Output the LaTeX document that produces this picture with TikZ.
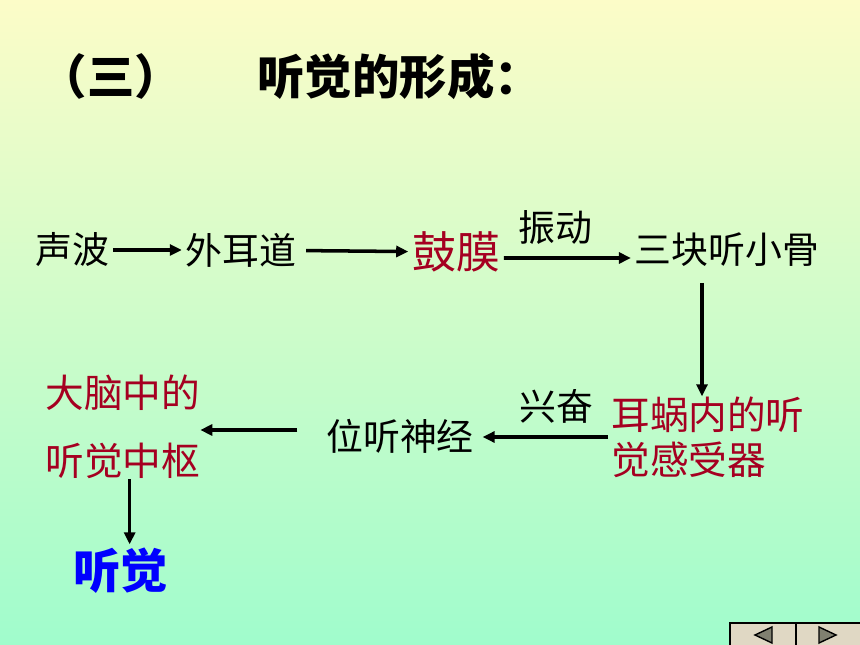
\documentclass[tikz,border=0pt]{standalone}
\usepackage{fontspec}
\newfontfamily\cjk{Noto Sans CJK SC}
\usetikzlibrary{arrows.meta}
\definecolor{bgtop}{RGB}{252,252,200}
\definecolor{bgbot}{RGB}{160,252,204}
\definecolor{darkred}{RGB}{165,0,33}
\definecolor{navbg}{RGB}{224,216,196}
\definecolor{navtri}{RGB}{128,128,112}
\tikzset{
  txt/.style = {inner sep = 2pt, font = \cjk\fontsize{21}{25}\selectfont},
  redtxt/.style = {inner sep = 0pt, align = left, text = darkred},
  arr/.style = {-{Triangle[length = .24cm, width = .22cm]}, line width = 2pt}
}
\begin{document}
\begin{tikzpicture}[x = .02cm, y = -.02cm]
\shade[top color = bgtop, bottom color = bgbot] (0,0) rectangle (860,645);
\useasboundingbox (0,0) rectangle (860,645);
\node[txt, font = \cjk\bfseries\fontsize{27}{30}\selectfont] (num) at (111,76) {（三）};
\node[txt, font = \cjk\bfseries\fontsize{27}{30}\selectfont, anchor = west, inner sep = 0pt] (title) at (257,76) {听觉的形成：};
\node[txt] (sb) at (72,250) {声波};
\node[txt] (wed) at (241,250) {外耳道};
\node[txt, text = darkred, font = \cjk\fontsize{25}{30}\selectfont] (gm) at (456,252) {鼓膜};
\node[txt] (sk) at (727,250) {三块听小骨};
\node[txt] (zd) at (555,228) {振动};
\node[txt, redtxt, font = \cjk\fontsize{22}{25.5}\selectfont, anchor = west] (eg) at (611,437) {耳蜗内的听\\觉感受器};
\node[txt] (xf) at (556,406) {兴奋};
\node[txt] (wtsj) at (400,436) {位听神经};
\node[txt, redtxt, font = \cjk\fontsize{22}{38.5}\selectfont, anchor = west] (dn) at (45,427) {大脑中的\\听觉中枢};
\node[txt, text = blue, font = \cjk\bfseries\fontsize{27}{30}\selectfont] (tj) at (121,571) {听觉};
\draw[arr] (sb) -- (wed);
\draw[arr, shorten <= .12cm] (wed) -- (gm);
\draw[arr] ([yshift = -.12cm]gm.east) -- ([yshift = -.16cm]sk.west);
\draw[arr] ([xshift = -.5cm, yshift = -.24cm]sk.south) -- ([xshift = -.5cm]sk.south |- eg.north);
\draw[arr, shorten >= .16cm] ([xshift = -.06cm]eg.west) -- ([xshift = -.06cm]eg.west -| wtsj.east);
\draw[arr, shorten <= .5cm] ([yshift = .12cm]wtsj.west) -- ([yshift = .12cm]wtsj.west -| dn.east);
\draw[arr] ([xshift = .14cm]dn.south) -- ([xshift = .14cm]dn.south |- tj.north);
\draw[thick, fill = navbg] (730,623) rectangle (862,647);
\draw[thick] (796,623) -- (796,647);
\draw[thick, fill = navtri] (772,627) -- (755,635) -- (772,643) -- cycle;
\draw[thick, fill = navtri] (819,627) -- (836,635) -- (819,643) -- cycle;
\end{tikzpicture}
\end{document}
